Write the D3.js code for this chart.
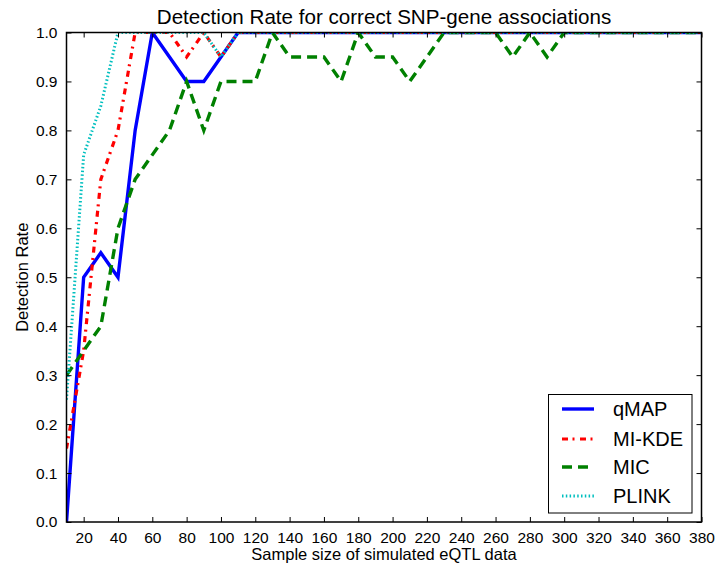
<!DOCTYPE html>
<html><head><meta charset="utf-8">
<script src="https://cdn.jsdelivr.net/npm/d3@7"></script>
<style>body{margin:0;background:#fff}svg{display:block}text{font-family:"Liberation Sans",Arial,sans-serif}</style>
</head><body>
<svg id="c" width="718" height="569"></svg>
<script>
const sampleSizes = [10,20,30,40,50,60,70,80,90,100,110,120,130,140,150,160,170,180,190,200,210,220,230,240,250,260,270,280,290,300,310,320,330,340,350,360,370,380];
const qMAP  = [0,0.5,0.55,0.5,0.8,1,0.95,0.9,0.9,0.95,1,1,1,1,1,1,1,1,1,1,1,1,1,1,1,1,1,1,1,1,1,1,1,1,1,1,1,1];
const miKDE = [0.15,0.35,0.7,0.8,1,1,1,0.95,1,0.95,1,1,1,1,1,1,1,1,1,1,1,1,1,1,1,1,1,1,1,1,1,1,1,1,1,1,1,1];
const mic   = [0.3,0.35,0.4,0.6,0.7,0.75,0.8,0.9,0.8,0.9,0.9,0.9,1,0.95,0.95,0.95,0.9,1,0.95,0.95,0.9,0.95,1,1,1,1,0.95,1,0.95,1,1,1,1,1,1,1,1,1];
const plink = [0.25,0.75,0.85,1,1,1,1,1,1,0.95,1,1,1,1,1,1,1,1,1,1,1,1,1,1,1,1,1,1,1,1,1,1,1,1,1,1,1,1];
const seriesNames = ["qMAP","MI-KDE","MIC","PLINK"];
const xTicks = [20,40,60,80,100,120,140,160,180,200,220,240,260,280,300,320,340,360,380];
const yTicks = [0,0.1,0.2,0.3,0.4,0.5,0.6,0.7,0.8,0.9,1.0];

const styles = [
  {color:"#0000ff", dash:null, w:3.4},
  {color:"#ff0000", dash:"6,4.5,2,5.5", w:3.2},
  {color:"#008000", dash:"10,6", w:3.4},
  {color:"#00bfbf", dash:"1.5,2.3", w:3}
];
const data = [qMAP, miKDE, mic, plink];

const L=66.5, R=701.5, T=32.5, B=522;
const svg = d3.select("#c");
const x = d3.scaleLinear().domain([10,380]).range([L,R]);
const y = d3.scaleLinear().domain([0,1]).range([B,T]);

svg.append("defs").append("clipPath").attr("id","clip")
  .append("rect").attr("x",L).attr("y",T).attr("width",R-L).attr("height",B-T);

const g = svg.append("g").attr("clip-path","url(#clip)");
const line = d3.line().x((d,i)=>x(sampleSizes[i])).y(d=>y(d));
data.forEach((s,k)=>{
  g.append("path").datum(s).attr("d",line).attr("fill","none")
   .attr("stroke",styles[k].color).attr("stroke-width",styles[k].w)
   .attr("stroke-dasharray",styles[k].dash).attr("stroke-linejoin","miter");
});

// axes (ticks inward)
const tl = 5;
const xb = svg.append("g").attr("transform",`translate(0,${B})`)
  .call(d3.axisBottom(x).tickValues(xTicks).tickSizeInner(-tl).tickSizeOuter(0).tickPadding(10).tickFormat(d3.format("d")));
const xt = svg.append("g").attr("transform",`translate(0,${T})`)
  .call(d3.axisTop(x).tickValues(xTicks).tickSizeInner(-tl).tickSizeOuter(0).tickFormat(""));
const yl = svg.append("g").attr("transform",`translate(${L},0)`)
  .call(d3.axisLeft(y).tickValues(yTicks).tickSizeInner(-tl).tickSizeOuter(0).tickPadding(9).tickFormat(d3.format(".1f")));
const yr = svg.append("g").attr("transform",`translate(${R},0)`)
  .call(d3.axisRight(y).tickValues(yTicks).tickSizeInner(-tl).tickSizeOuter(0).tickFormat(""));
[xb,xt,yl,yr].forEach(a=>{
  a.select(".domain").remove();
  a.selectAll(".tick line").attr("stroke","#000").attr("stroke-width",1);
  a.selectAll("text").attr("font-size",15.5).attr("fill","#000").style("font-family","Liberation Sans, Arial, sans-serif");
});
svg.append("rect").attr("x",L).attr("y",T).attr("width",R-L).attr("height",B-T)
  .attr("fill","none").attr("stroke","#000").attr("stroke-width",1.5);

svg.append("text").attr("x",(L+R)/2).attr("y",24).attr("text-anchor","middle")
  .attr("font-size",20.6).text("Detection Rate for correct SNP-gene associations");
svg.append("text").attr("x",(L+R)/2).attr("y",560).attr("text-anchor","middle")
  .attr("font-size",16.5).text("Sample size of simulated eQTL data");
svg.append("text").attr("transform",`translate(28,${(T+B)/2}) rotate(-90)`).attr("text-anchor","middle")
  .attr("font-size",16.5).text("Detection Rate");

// legend
const lg = svg.append("g");
lg.append("rect").attr("x",548.5).attr("y",394.5).attr("width",143.5).attr("height",118.5)
  .attr("fill","#fff").attr("stroke","#000").attr("stroke-width",1);
const ly = [409,439,467,496];
seriesNames.forEach((n,k)=>{
  lg.append("line").attr("x1",562).attr("x2",594).attr("y1",ly[k]).attr("y2",ly[k])
    .attr("stroke",styles[k].color).attr("stroke-width",styles[k].w).attr("stroke-dasharray",styles[k].dash);
  lg.append("text").attr("x",613).attr("y",ly[k]).attr("dy","0.35em").attr("font-size",20).text(n);
});
</script>
</body></html>
